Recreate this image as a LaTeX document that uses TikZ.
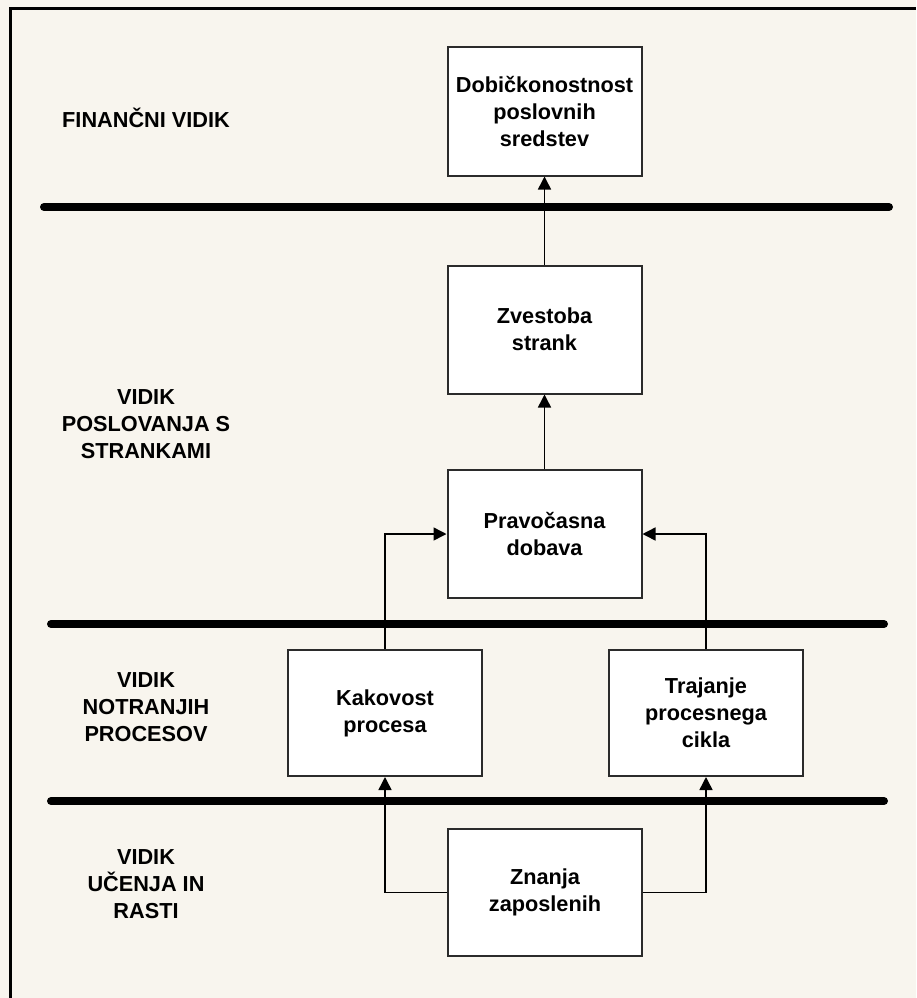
\documentclass[tikz,border=0pt]{standalone}
\usepackage{fontspec}
\setmainfont{Liberation Sans}
\usetikzlibrary{arrows.meta}
\definecolor{paper}{HTML}{F8F5EE}
\definecolor{edge}{HTML}{2B2B2B}
\begin{document}
\begin{tikzpicture}[x=1pt,y=-1pt,
  txt/.style={font=\fontsize{21.7}{27}\selectfont\bfseries,text=black},
  box/.style={txt,draw=edge,line width=2pt,fill=white,minimum width=194pt,
    minimum height=128pt,inner sep=0pt,align=center},
  lab/.style={txt,align=center,inner sep=0pt},
  conn/.style={draw=black,line width=1.5pt,-{Triangle[length=13pt,width=13pt]}},
  divider/.style={line width=8pt,line cap=round}]
  % page and frame
  \fill[paper] (0,0) rectangle (916,998);
  \useasboundingbox (0,0) rectangle (916,998);
  \draw[line width=3pt] (10,998) -- (10,9) -- (916,9);

  % perspective dividers
  \draw[divider] (44,207) -- (889,207);
  \draw[divider] (51,624) -- (884,624);
  \draw[divider] (51,801) -- (884,801);

  % perspective labels
  \node[lab] (l1) at (146,118) {FINANČNI VIDIK};
  \node[lab] (l2) at (146,424) {VIDIK\\POSLOVANJA S\\STRANKAMI};
  \node[lab] (l3) at (146,707) {VIDIK\\NOTRANJIH\\PROCESOV};
  \node[lab] (l4) at (146,884) {VIDIK\\UČENJA IN\\RASTI};

  % objectives
  \node[box] (dob) at (544.5,111.5) {Dobičkonostnost\\poslovnih\\sredstev};
  \node[box] (zve) at (544.5,329.5) {Zvestoba\\strank};
  \node[box] (pra) at (544.5,534) {Pravočasna\\dobava};
  \node[box,minimum height=126pt] (kak) at (385,713) {Kakovost\\procesa};
  \node[box,minimum height=126pt] (tra) at (706,713) {Trajanje\\procesnega\\cikla};
  \node[box,minimum height=127pt] (zna) at (545,892.5) {Znanja\\zaposlenih};

  % cause and effect links
  \draw[conn] (zve.north) -- (dob.south);
  \draw[conn] (pra.north) -- (zve.south);
  \draw[conn] (kak.north) |- (pra.west);
  \draw[conn] (tra.north) |- (pra.east);
  \draw[conn] (zna.west) -| (kak.south);
  \draw[conn] (zna.east) -| (tra.south);
\end{tikzpicture}
\end{document}
